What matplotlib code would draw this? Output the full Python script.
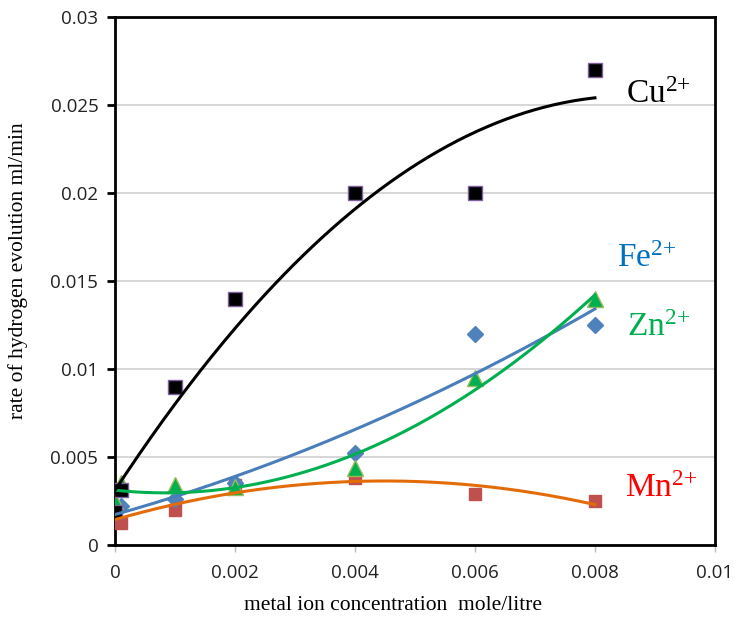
import numpy as np
import matplotlib
matplotlib.use("Agg")
import matplotlib.pyplot as plt

plt.rcParams['mathtext.fontset'] = 'custom'
plt.rcParams['mathtext.rm'] = 'Liberation Serif'
plt.rcParams['mathtext.it'] = 'Liberation Serif'

# concentration (mole/litre) and rates (ml/min)
conc = [0, 0.0001, 0.001, 0.002, 0.004, 0.006, 0.008]
cu = [0.0019, 0.0031, 0.009, 0.014, 0.020, 0.020, 0.027]
fe = [0.0019, 0.0022, 0.0026, 0.0035, 0.0052, 0.012, 0.0125]
zn = [0.0025, 0.0035, 0.0034, 0.0033, 0.0044, 0.0095, 0.014]
mn = [0.0017, 0.00125, 0.0020, 0.0034, 0.0038, 0.0029, 0.0025]

x_ticks = [0, 0.002, 0.004, 0.006, 0.008, 0.01]
x_labels = ['0', '0.002', '0.004', '0.006', '0.008', '0.01']
y_ticks = [0, 0.005, 0.01, 0.015, 0.02, 0.025, 0.03]
y_labels = ['0', '0.005', '0.01', '0.015', '0.02', '0.025', '0.03']

fig = plt.figure(figsize=(7.34, 6.22), dpi=100)
ax = fig.add_axes([0.1567, 0.1238, 0.8173, 0.8489])

xs = np.linspace(0, 0.008, 200)

series = [
    # values, marker, face, edge, size, line colour
    (mn, 's', '#C0504D', '#C0504D', 9, '#E36C09'),
    (fe, 'D', '#4F81BD', '#4F81BD', 8, '#4A7EBB'),
    (zn, '^', '#00B050', '#9BBB59', 11, '#00B050'),
    (cu, 's', '#000000', '#7F5FA0', 9.5, '#000000'),
]

for vals, mk, fc, ec, ms, lc in series:
    ax.plot(conc, vals, linestyle='none', marker=mk, markerfacecolor=fc,
            markeredgecolor=ec, markeredgewidth=1, markersize=ms, zorder=3)
for vals, mk, fc, ec, ms, lc in series:
    coef = np.polyfit(conc, vals, 2)
    ax.plot(xs, np.polyval(coef, xs), color=lc, lw=2.2, zorder=4)

ax.set_xlim(0, 0.01)
ax.set_ylim(0, 0.03)
ax.set_xticks(x_ticks)
ax.set_xticklabels(x_labels)
ax.set_yticks(y_ticks)
ax.set_yticklabels(y_labels)
ax.yaxis.grid(True, color='#D0D0D0', lw=1.2)
ax.set_axisbelow(True)

for s in ax.spines.values():
    s.set_linewidth(2)
    s.set_color('black')

ax.tick_params(axis='y', direction='out', length=6, width=2, labelsize=13.5,
               pad=6, labelcolor='#222222')
ax.tick_params(axis='x', direction='out', length=5, width=1, color='#BBBBBB',
               labelsize=13.5, pad=9, labelcolor='#222222')
for lab in ax.get_xticklabels() + ax.get_yticklabels():
    lab.set_fontfamily('Open Sans')

ax.set_xlabel('metal ion concentration  mole/litre', fontsize=15.5,
              fontfamily='Liberation Serif', va='center')
ax.set_ylabel('rate of hydrogen evolution ml/min', fontsize=15.5,
              fontfamily='Liberation Serif', va='center')
ax.xaxis.set_label_coords(0.463, -0.114)
ax.yaxis.set_label_coords(-0.162, 0.519)

ion_kw = dict(fontsize=24, va='baseline')
ax.text(0.00852, 0.0251, r'$\mathrm{Cu}^{2{+}}$', color='black', **ion_kw)
ax.text(0.00837, 0.0158, r'$\mathrm{Fe}^{2{+}}$', color='#0070C0', **ion_kw)
ax.text(0.00853, 0.0119, r'$\mathrm{Zn}^{2{+}}$', color='#00B050', **ion_kw)
ax.text(0.0085, 0.0027, r'$\mathrm{Mn}^{2{+}}$', color='#FF0000', **ion_kw)

fig.savefig('out.png', dpi=100)
